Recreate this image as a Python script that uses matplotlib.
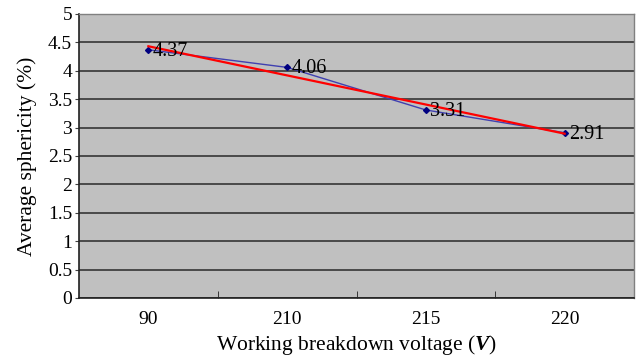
import matplotlib
matplotlib.use("Agg")
import matplotlib.pyplot as plt
import numpy as np

plt.rcParams['font.family'] = ['Liberation Serif', 'DejaVu Serif']
plt.rcParams['mathtext.fontset'] = 'custom'
plt.rcParams['mathtext.rm'] = 'Liberation Serif'
plt.rcParams['mathtext.it'] = 'Liberation Serif:italic:bold'

voltages = ["90", "210", "215", "220"]
sphericity = [4.37, 4.06, 3.31, 2.91]

x = np.arange(len(voltages))
slope, icpt = np.polyfit(x, sphericity, 1)
trend = slope * x + icpt

fig = plt.figure(figsize=(6.37, 3.61), dpi=100)
ax = fig.add_axes([79/637, 1 - 298/361, (634-79)/637, (298-14)/361])
ax.set_facecolor('#c0c0c0')

ax.set_xlim(-0.5, 3.5)
ax.set_ylim(0, 5)
ax.set_yticks(np.arange(0, 5.01, 0.5))
ax.set_yticklabels(['0', '0.5', '1', '1.5', '2', '2.5', '3', '3.5', '4', '4.5', '5'])
ax.yaxis.grid(True, color='#404040', linewidth=1.3)
ax.set_axisbelow(True)

ax.plot(x, sphericity, color='#4040b0', linewidth=1.0, marker='D',
        markersize=3, markerfacecolor='#000080', markeredgecolor='#000080', zorder=3)
ax.plot(x, trend, color='red', linewidth=1.6, zorder=4)

for xi, yi in zip(x, sphericity):
    ax.annotate(f'{yi:.2f}', xy=(xi, yi), xytext=(3, -1), textcoords='offset points',
                ha='left', va='center', fontsize=14.5, zorder=5)

# category ticks between categories
ax.set_xticks(x)
ax.set_xticklabels(voltages, fontsize=14)
ax.tick_params(axis='x', length=0, pad=9)
ax.set_xticks(np.arange(0.5, 3.5, 1), minor=True)
ax.tick_params(axis='x', which='minor', direction='in', length=5, color='#202020')
ax.tick_params(axis='y', labelsize=14, length=3, color='#404040', pad=2)

for s in ['left', 'bottom']:
    ax.spines[s].set_color('#202020')
    ax.spines[s].set_linewidth(1.2)
for s in ['top', 'right']:
    ax.spines[s].set_color('#808080')
    ax.spines[s].set_linewidth(1.0)

ax.set_xlabel('Working breakdown voltage ($\\mathit{V}$)', fontsize=15.5, labelpad=4)
ax.set_ylabel('Average sphericity (%)', fontsize=15.5, labelpad=8)

fig.savefig('out.png', dpi=100)
